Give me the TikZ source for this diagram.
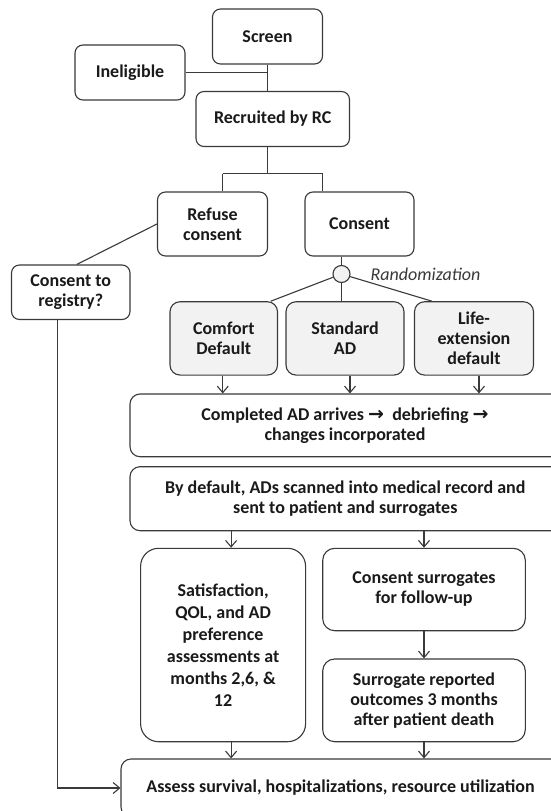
\documentclass[tikz,border=0pt]{standalone}
\usepackage{fontspec}
\setmainfont{Carlito}
\newfontfamily\symfont{DejaVu Sans}
\usetikzlibrary{arrows.meta}
\definecolor{linec}{HTML}{3A3A3A}
\definecolor{txtc}{HTML}{1A1A1A}
\definecolor{boxfill}{HTML}{F2F2F2}
\newcommand{\rarr}{{\symfont\bfseries\fontsize{19}{20}\selectfont →}}
\begin{document}
\begin{tikzpicture}[x=1pt,y=-1pt,
  box/.style={draw=linec, line width=1.1pt, rounded corners=8pt, align=center,
    text=txtc, font=\bfseries\fontsize{18}{20}\selectfont, inner sep=0pt},
  gbox/.style={box, fill=boxfill, rounded corners=10pt},
  wbox/.style={draw=linec, line width=1.1pt, rounded corners=10pt, inner sep=0pt},
  wtext/.style={align=center, text=txtc, font=\bfseries\fontsize{18}{20}\selectfont, inner sep=0pt},
  conn/.style={draw=linec, line width=1.1pt},
  arr/.style={conn, -{Straight Barb[length=6.5pt,width=11pt]}},
  circ/.style={circle, draw=linec, line width=1.1pt, fill=boxfill, minimum size=17pt, inner sep=0pt}
]
\useasboundingbox (0,0) rectangle (551,811);
\clip (0,0) rectangle (551,811);
\fill[white] (0,0) rectangle (551,811);

\node[box, minimum width=110pt, minimum height=55pt] (screen) at (267.5,36.5) {Screen};
\node[box, minimum width=110pt, minimum height=55pt] (inel) at (130,72.5) {Ineligible};
\node[box, minimum width=153.5pt, minimum height=55pt] (recr) at (272.75,119) {Recruited by RC};
\node[box, minimum width=110pt, minimum height=64pt] (refuse) at (212.5,224) {Refuse\\consent};
\node[box, minimum width=109pt, minimum height=64pt] (consent) at (359.5,224) {Consent};
\node[box, minimum width=118.5pt, minimum height=54.5pt] (reg) at (70.75,292.25) {Consent to\\registry?};
\node[circ] (rnd) at (341.5,274) {};
\node[anchor=west, inner sep=0pt, text=linec, font=\itshape\fontsize{18}{20}\selectfont] (rndlbl) at (370.5,274) {Randomization};

\node[gbox, minimum width=107.5pt, minimum height=73.3pt] (comfort) at (223.75,338.4) {Comfort\\Default};
\node[gbox, minimum width=118pt, minimum height=73.3pt] (standard) at (345,338.4) {Standard\\AD};
\node[gbox, minimum width=119pt, minimum height=73.3pt] (life) at (474,338.4) {Life-\\extension\\default};

\node[wbox, minimum width=470pt, minimum height=62.7pt] (completed) at (365,425.35) {};
\node[wtext] (completedtxt) at (345,425.35) {Completed AD arrives \rarr\ \ debriefing \rarr\\changes incorporated};

\node[wbox, minimum width=470pt, minimum height=64pt] (bydef) at (365,498.7) {};
\node[wtext] (bydeftxt) at (345.3,498.7) {By default, ADs scanned into medical record and\\sent to patient and surrogates};

\node[box, rounded corners=18pt, minimum width=165pt, minimum height=193.4pt, font=\bfseries\fontsize{18}{22}\selectfont] (sat) at (223.1,645) {Satisfaction,\\QOL, and AD\\preference\\assessments at\\months 2,6, \&\\12};
\node[box, rounded corners=12pt, minimum width=202.6pt, minimum height=82.4pt] (csurr) at (424,589.5) {Consent surrogates\\for follow-up};
\node[box, rounded corners=12pt, minimum width=202.6pt, minimum height=82.7pt] (srep) at (424,700.35) {Surrogate reported\\outcomes 3 months\\after patient death};

\node[wbox, minimum width=480pt, minimum height=58pt] (assess) at (361,788) {};
\node[wtext] (assesstxt) at (340.5,788) {Assess survival, hospitalizations, resource utilization};

% connectors
\coordinate (jl) at (222.5,173.5);
\coordinate (jr) at (322.5,173.5);
\draw[conn] (screen.south) -- (screen.south |- recr.north);
\draw[conn] (inel.east) -- (inel.east -| screen.south);
\draw[conn] (screen.south |- recr.south) -- (screen.south |- jl);
\draw[conn] (jl) -- (jr);
\draw[conn] (jl) -- (jl |- refuse.north);
\draw[conn] (jr) -- (jr |- consent.north);
\draw[conn] (refuse.west) -- ([xshift=6pt]reg.north);
\draw[conn] (rnd |- consent.south) -- (rnd.north);
\draw[conn] (rnd) -- ([xshift=47pt]comfort.north);
\draw[conn] (rnd) -- (rnd |- standard.north);
\draw[conn] (rnd) -- ([xshift=-42pt]life.north);

\draw[arr] ([xshift=-1pt]comfort.south) -- ([xshift=-1pt]comfort.south |- completed.north);
\draw[arr] ([xshift=5pt]standard.south) -- ([xshift=5pt]standard.south |- completed.north);
\draw[arr] ([xshift=5pt]life.south) -- ([xshift=5pt]life.south |- completed.north);

\draw[arr] ([xshift=8pt]sat.north |- bydef.south) -- ([xshift=8pt]sat.north);
\draw[arr] (csurr.north |- bydef.south) -- (csurr.north);
\draw[arr] (csurr.south) -- (srep.north);
\draw[arr] ([xshift=8pt]sat.south) -- ([xshift=8pt]sat.south |- assess.north);
\draw[arr] (srep.south) -- (srep.south |- assess.north);
\draw[arr] ([xshift=-13pt]reg.south) -- ([xshift=-13pt]reg.south |- assess.west) -- (assess.west);
\end{tikzpicture}
\end{document}
